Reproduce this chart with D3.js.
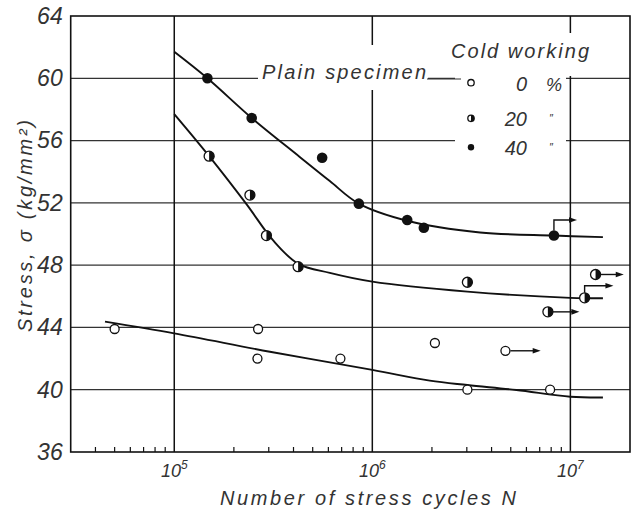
<!DOCTYPE html>
<html>
<head>
<meta charset="utf-8">
<script src="https://cdn.jsdelivr.net/npm/d3@7"></script>
<style>
  body { margin: 0; background: #fff; }
  svg { display: block; }
  text { font-family: 'Liberation Sans', Arial, sans-serif; font-style: italic; fill: #333; }
</style>
</head>
<body>
<div id="chart"></div>
<script>
// Data (N = cycles, S = stress kg/mm2)
const yTicks = [36, 40, 44, 48, 52, 56, 60, 64];
const xDecades = [1e5, 1e6, 1e7];
const xDecadeExp = ['5', '6', '7'];

const points0 = [[5.0e4, 43.9], [2.65e5, 43.9], [2.63e5, 42.0], [6.9e5, 42.0], [2.07e6, 43.0], [3.02e6, 40.0], [4.7e6, 42.5], [7.9e6, 40.0]];
const points20 = [[1.5e5, 55.0], [2.41e5, 52.5], [2.92e5, 49.9], [4.22e5, 47.9], [3.02e6, 46.9], [7.7e6, 45.0], [1.18e7, 45.9], [1.34e7, 47.4]];
const points40 = [[1.47e5, 60.0], [2.46e5, 57.45], [5.58e5, 54.9], [8.55e5, 51.95], [1.5e6, 50.9], [1.82e6, 50.4], [8.26e6, 49.9]];

const curve0 = [[4.47e4, 44.37], [1e5, 43.62], [3.04e5, 42.44], [1e6, 41.27], [1.95e6, 40.58], [3.02e6, 40.3], [5.34e6, 39.98], [1e7, 39.55], [1.46e7, 39.5]];
const curve20 = [[1e5, 57.7], [1.5e5, 55.0], [2.32e5, 51.9], [3.15e5, 49.6], [4.21e5, 48.1], [6.1e5, 47.5], [1e6, 46.94], [3.02e6, 46.3], [1e7, 45.9], [1.46e7, 45.87]];
const curve40 = [[1e5, 61.7], [1.47e5, 60.0], [2.46e5, 57.45], [4.3e5, 54.95], [6.1e5, 53.4], [8.55e5, 51.95], [1.5e6, 50.85], [3.5e6, 50.1], [8.26e6, 49.9], [1.46e7, 49.8]];

// run-outs: start N, S, arrow end N, S of arrow shaft
const runouts = [
  { n: 4.7e6, s: 42.5, endN: 7.08e6, shaftS: 42.5 },
  { n: 7.7e6, s: 45.0, endN: 1.11e7, shaftS: 45.0 },
  { n: 1.34e7, s: 47.4, endN: 1.86e7, shaftS: 47.4 },
  { n: 1.18e7, s: 45.9, endN: 1.65e7, shaftS: 46.68 },
  { n: 8.26e6, s: 49.9, endN: 1.08e7, shaftS: 50.9 }
];

const legendLabels = ['0', '20', '40'];
const legendTypes = ['open', 'half', 'full'];

//Chart dimensions
const W = 636, H = 511;
const margin = { top: 16, bot: 59, left: 70.7, right: 6 };
const width = W - margin.left - margin.right;
const height = H - margin.top - margin.bot;

// Scales
const xScale = d3.scaleLog().domain([3e4, 2e7]).range([0, width]);
const yScale = d3.scaleLinear().domain([36, 64]).range([height, 0]);

const svg = d3.select('#chart').append('svg')
  .attr('width', W)
  .attr('height', H);

const g = svg.append('g')
  .attr('transform', `translate(${margin.left}, ${margin.top})`);

// Grid
g.append('g').selectAll('line')
  .data(yTicks.slice(1, -1))
  .join('line')
  .attr('x1', 0).attr('x2', width)
  .attr('y1', d => yScale(d)).attr('y2', d => yScale(d))
  .attr('stroke', '#333').attr('stroke-width', 1.2);

g.append('g').selectAll('line')
  .data(xDecades)
  .join('line')
  .attr('x1', d => xScale(d)).attr('x2', d => xScale(d))
  .attr('y1', 0).attr('y2', height)
  .attr('stroke', '#111').attr('stroke-width', 1.5);

// minor ticks on the bottom
const minor = [];
[1e4, 1e5, 1e6, 1e7].forEach(dec => {
  for (let k = 2; k <= 9; k++) {
    const v = dec * k;
    if (v > 3e4 && v < 2e7) minor.push(v);
  }
});
g.append('g').selectAll('line')
  .data(minor)
  .join('line')
  .attr('x1', d => xScale(d)).attr('x2', d => xScale(d))
  .attr('y1', height).attr('y2', height - 5)
  .attr('stroke', '#111').attr('stroke-width', 1.2);

// white boxes behind labels (break the grid like the original)
g.append('rect')
  .attr('x', 258 - margin.left).attr('y', 45 - margin.top)
  .attr('width', 170).attr('height', 45).attr('fill', '#fff');
g.append('rect')
  .attr('x', 447 - margin.left).attr('y', 33 - margin.top)
  .attr('width', 145).attr('height', 43).attr('fill', '#fff');
g.append('rect')
  .attr('x', 455 - margin.left).attr('y', 62 - margin.top)
  .attr('width', 111).attr('height', 100).attr('fill', '#fff');

// frame
g.append('rect')
  .attr('width', width).attr('height', height)
  .attr('fill', 'none').attr('stroke', '#111').attr('stroke-width', 1.6);

// Curves
const line = d3.line()
  .x(d => xScale(d[0]))
  .y(d => yScale(d[1]))
  .curve(d3.curveCatmullRom.alpha(0.5));

[curve0, curve20, curve40].forEach(c => {
  g.append('path')
    .datum(c)
    .attr('d', line)
    .attr('fill', 'none')
    .attr('stroke', '#111')
    .attr('stroke-width', 1.9);
});

// Run-out arrows
const arrows = g.append('g');
runouts.forEach(r => {
  const x0 = xScale(r.n), y0 = yScale(r.s);
  const x1 = xScale(r.endN), ys = yScale(r.shaftS);
  let d;
  if (Math.abs(ys - y0) > 1) d = `M${x0},${y0 - 5}V${ys}H${x1 - 6}`;
  else d = `M${x0 + 5},${y0}H${x1 - 6}`;
  arrows.append('path')
    .attr('d', d)
    .attr('fill', 'none').attr('stroke', '#111').attr('stroke-width', 1.4);
  arrows.append('path')
    .attr('d', `M${x1},${ys}L${x1 - 8},${ys - 2.8}L${x1 - 8},${ys + 2.8}Z`)
    .attr('fill', '#111');
});

// Markers
function marker(sel, type, r) {
  if (type === 'full') {
    sel.append('circle').attr('r', r).attr('fill', '#111');
  } else if (type === 'open') {
    sel.append('circle').attr('r', r).attr('fill', '#fff')
      .attr('stroke', '#111').attr('stroke-width', 1.3);
  } else {
    sel.append('circle').attr('r', r).attr('fill', '#fff')
      .attr('stroke', '#111').attr('stroke-width', 1.3);
    sel.append('path')
      .attr('d', `M0,${-r}A${r},${r} 0 0 1 0,${r}Z`)
      .attr('fill', '#111');
  }
}

[[points0, 'open', 4.5], [points20, 'half', 5], [points40, 'full', 5.3]].forEach(([pts, type, r]) => {
  pts.forEach(p => {
    const m = g.append('g')
      .attr('transform', `translate(${xScale(p[0])}, ${yScale(p[1])})`);
    marker(m, type, r);
  });
});

// Axis labels
g.append('g').selectAll('text')
  .data(yTicks)
  .join('text')
  .attr('x', -8)
  .attr('y', d => yScale(d))
  .attr('dy', '0.34em')
  .attr('text-anchor', 'end')
  .style('font-size', '23px')
  .text(d => d);

const xl = g.append('g').selectAll('text')
  .data(xDecades)
  .join('text')
  .attr('x', d => xScale(d))
  .attr('y', height + 25)
  .attr('text-anchor', 'middle')
  .style('font-size', '18px');
xl.append('tspan').text('10');
xl.append('tspan').attr('dy', -8).style('font-size', '12px').text((d, i) => xDecadeExp[i]);

svg.append('text')
  .attr('x', 220).attr('y', 505)
  .attr('textLength', 296).attr('lengthAdjust', 'spacing')
  .style('font-size', '20px')
  .text('Number of stress cycles N');

svg.append('text')
  .attr('transform', 'translate(32, 332) rotate(-90)')
  .attr('textLength', 212).attr('lengthAdjust', 'spacing')
  .style('font-size', '20px')
  .text('Stress, σ (kg/mm²)');

// Legend
svg.append('text')
  .attr('x', 262).attr('y', 79)
  .attr('textLength', 164).attr('lengthAdjust', 'spacing')
  .style('font-size', '20px')
  .text('Plain specimen');
svg.append('line')
  .attr('x1', 427).attr('x2', 461).attr('y1', 79).attr('y2', 79)
  .attr('stroke', '#333').attr('stroke-width', 1.2);

svg.append('text')
  .attr('x', 451).attr('y', 58)
  .attr('textLength', 138).attr('lengthAdjust', 'spacing')
  .style('font-size', '20px')
  .text('Cold working');

const legRows = [82.7, 118.3, 147.3];
legendLabels.forEach((lab, i) => {
  const m = svg.append('g').attr('transform', `translate(471, ${legRows[i]})`);
  marker(m, legendTypes[i], 3.2);
  svg.append('text')
    .attr('x', 527).attr('y', legRows[i] + 8)
    .attr('text-anchor', 'end')
    .style('font-size', '20px')
    .text(lab);
  svg.append('text')
    .attr('x', i === 0 ? 546 : 549).attr('y', legRows[i] + (i === 0 ? 8 : 4))
    .style('font-size', i === 0 ? '18px' : '11px')
    .text(i === 0 ? '%' : '″');
});
</script>
</body>
</html>
